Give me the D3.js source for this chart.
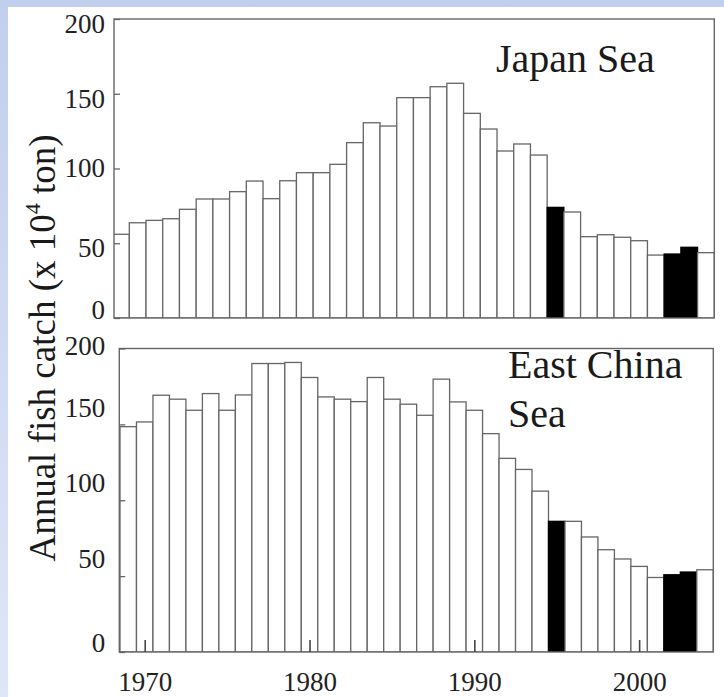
<!DOCTYPE html>
<html><head><meta charset="utf-8">
<script src="https://cdn.jsdelivr.net/npm/d3@7"></script>
<style>html,body{margin:0;padding:0;background:#fff;}svg{display:block;} .serif{font-family:"Liberation Serif","DejaVu Serif","Times New Roman",Times,serif;}</style>
</head><body>
<svg id="chart" width="724" height="697"></svg>
<script>
// ---- data ----
const years = d3.range(1969, 2005);
const japanSea = [56.0, 63.7, 65.3, 66.4, 72.7, 79.6, 79.6, 84.5, 91.6, 79.8, 91.8, 97.2, 97.2, 102.8, 117.3,
  130.6, 128.4, 147.4, 147.4, 154.7, 157.0, 136.9, 126.4, 111.7, 116.4, 109.0, 74.0, 70.9, 54.4, 55.7, 54.0, 51.7,
  42.1, 42.8, 47.3, 43.7];
const eastChinaSea = [148.5, 151.6, 169.2, 166.6, 159.3, 170.3, 159.3, 169.4, 190.1, 190.1, 190.8, 180.9, 168.1,
  166.6, 165.0, 180.9, 166.6, 163.3, 156.0, 179.8, 164.8, 159.3, 143.9, 127.6, 120.3, 106.0, 86.1, 86.1, 75.8, 67.4,
  61.3, 56.4, 49.1, 50.9, 52.7, 54.2];
const highlightYears = [1995, 2002, 2003];
const yTicks = [0, 50, 100, 150, 200];
const xTicks = [1970, 1980, 1990, 2000];
const yLabel = "Annual fish catch (x 10";
const panelNames = ["Japan Sea", ["East China", "Sea"]];

// ---- drawing ----
const svg = d3.select("#chart");
const stroke = "#666";

const defs = svg.append("defs");
const grad = defs.append("linearGradient").attr("id", "bg").attr("x1", 0).attr("y1", 0).attr("x2", 0).attr("y2", 1);
grad.append("stop").attr("offset", "0%").attr("stop-color", "#c1cfee");
grad.append("stop").attr("offset", "100%").attr("stop-color", "#dfe6f6");
svg.append("rect").attr("width", 724).attr("height", 697).attr("fill", "url(#bg)");
svg.append("rect").attr("x", 8).attr("y", 7).attr("width", 716).attr("height", 690).attr("fill", "#fff");

function panel(cfg) {
  const x = d3.scaleLinear().domain([1968.5, 2004.5]).range(cfg.xr);
  const y = d3.scaleLinear().domain([0, 200]).range(cfg.yr);
  const g = svg.append("g");
  const clipId = "clip" + cfg.id;
  defs.append("clipPath").attr("id", clipId).append("rect")
    .attr("x", cfg.fx0).attr("y", y(200)).attr("width", cfg.fx1 - cfg.fx0).attr("height", y(0) - y(200));
  g.append("g").attr("clip-path", `url(#${clipId})`)
    .selectAll("rect").data(years.map((yr, i) => ({yr, v: cfg.values[i]})))
    .join("rect")
    .attr("x", d => x(d.yr - 0.5))
    .attr("width", d => x(d.yr + 0.5) - x(d.yr - 0.5))
    .attr("y", d => y(d.v))
    .attr("height", d => y(0) - y(d.v))
    .attr("fill", d => highlightYears.includes(d.yr) ? "#000" : "#fff")
    .attr("stroke", d => highlightYears.includes(d.yr) ? "#000" : stroke)
    .attr("stroke-width", 1.3);
  g.append("rect").attr("x", cfg.fx0).attr("y", y(200)).attr("width", cfg.fx1 - cfg.fx0)
    .attr("height", y(0) - y(200)).attr("fill", "none").attr("stroke", stroke).attr("stroke-width", 1.4);
  const ya = g.append("g").attr("transform", `translate(${cfg.fx0},0)`)
    .call(d3.axisLeft(y).tickValues(yTicks).tickSize(-6).tickPadding(cfg.pad));
  ya.attr("font-family", null).attr("font-size", null);
  ya.select(".domain").remove();
  ya.selectAll("line").attr("stroke", stroke).attr("stroke-width", 1.3);
  ya.selectAll("text").attr("class", "serif").attr("font-size", 27).attr("fill", "#222")
    .attr("dy", "0.32em").attr("transform", d => `translate(0,${cfg.labelShift(d)})`);
  if (cfg.xaxis) {
    const xa = g.append("g").attr("transform", `translate(0,${y(0)})`)
      .call(d3.axisBottom(x).tickValues(xTicks).tickFormat(d3.format("d")).tickSize(-12).tickPadding(20));
    xa.attr("font-family", null).attr("font-size", null);
    xa.select(".domain").remove();
    xa.selectAll("line").attr("stroke", "#444").attr("stroke-width", 1.6);
    xa.selectAll("text").attr("class", "serif").attr("font-size", 27).attr("fill", "#222");
  }
  const names = Array.isArray(cfg.name) ? cfg.name : [cfg.name];
  const t = g.append("text").attr("class", "serif").attr("font-size", 40).attr("fill", "#1a1a1a");
  names.forEach((n, i) => t.append("tspan").attr("x", cfg.tx).attr("y", cfg.ty + i * 49).text(n));
}

panel({id: 1, values: japanSea, xr: [112.6, 714.3], yr: [318, 19], fx0: 114, fx1: 714.3,
  pad: 9, labelShift: d => d === 0 ? -8 : d === 100 ? -1 : 5, xaxis: false, name: panelNames[0], tx: 496, ty: 72});
panel({id: 2, values: eastChinaSea, xr: [120, 713.3], yr: [652, 348.5], fx0: 119.3, fx1: 713.3,
  pad: 14, labelShift: d => d === 200 ? -3 : d === 0 ? -9 : -17, xaxis: true, name: panelNames[1], tx: 508, ty: 378});

const yl = svg.append("text").attr("class", "serif").attr("font-size", 37).attr("fill", "#1a1a1a")
  .attr("text-anchor", "middle").attr("transform", "translate(55,348) rotate(-90)");
yl.append("tspan").text(yLabel);
yl.append("tspan").attr("font-size", 22).attr("dy", -15).text("4");
yl.append("tspan").attr("dy", 15).text(" ton)");
</script>
</body></html>
